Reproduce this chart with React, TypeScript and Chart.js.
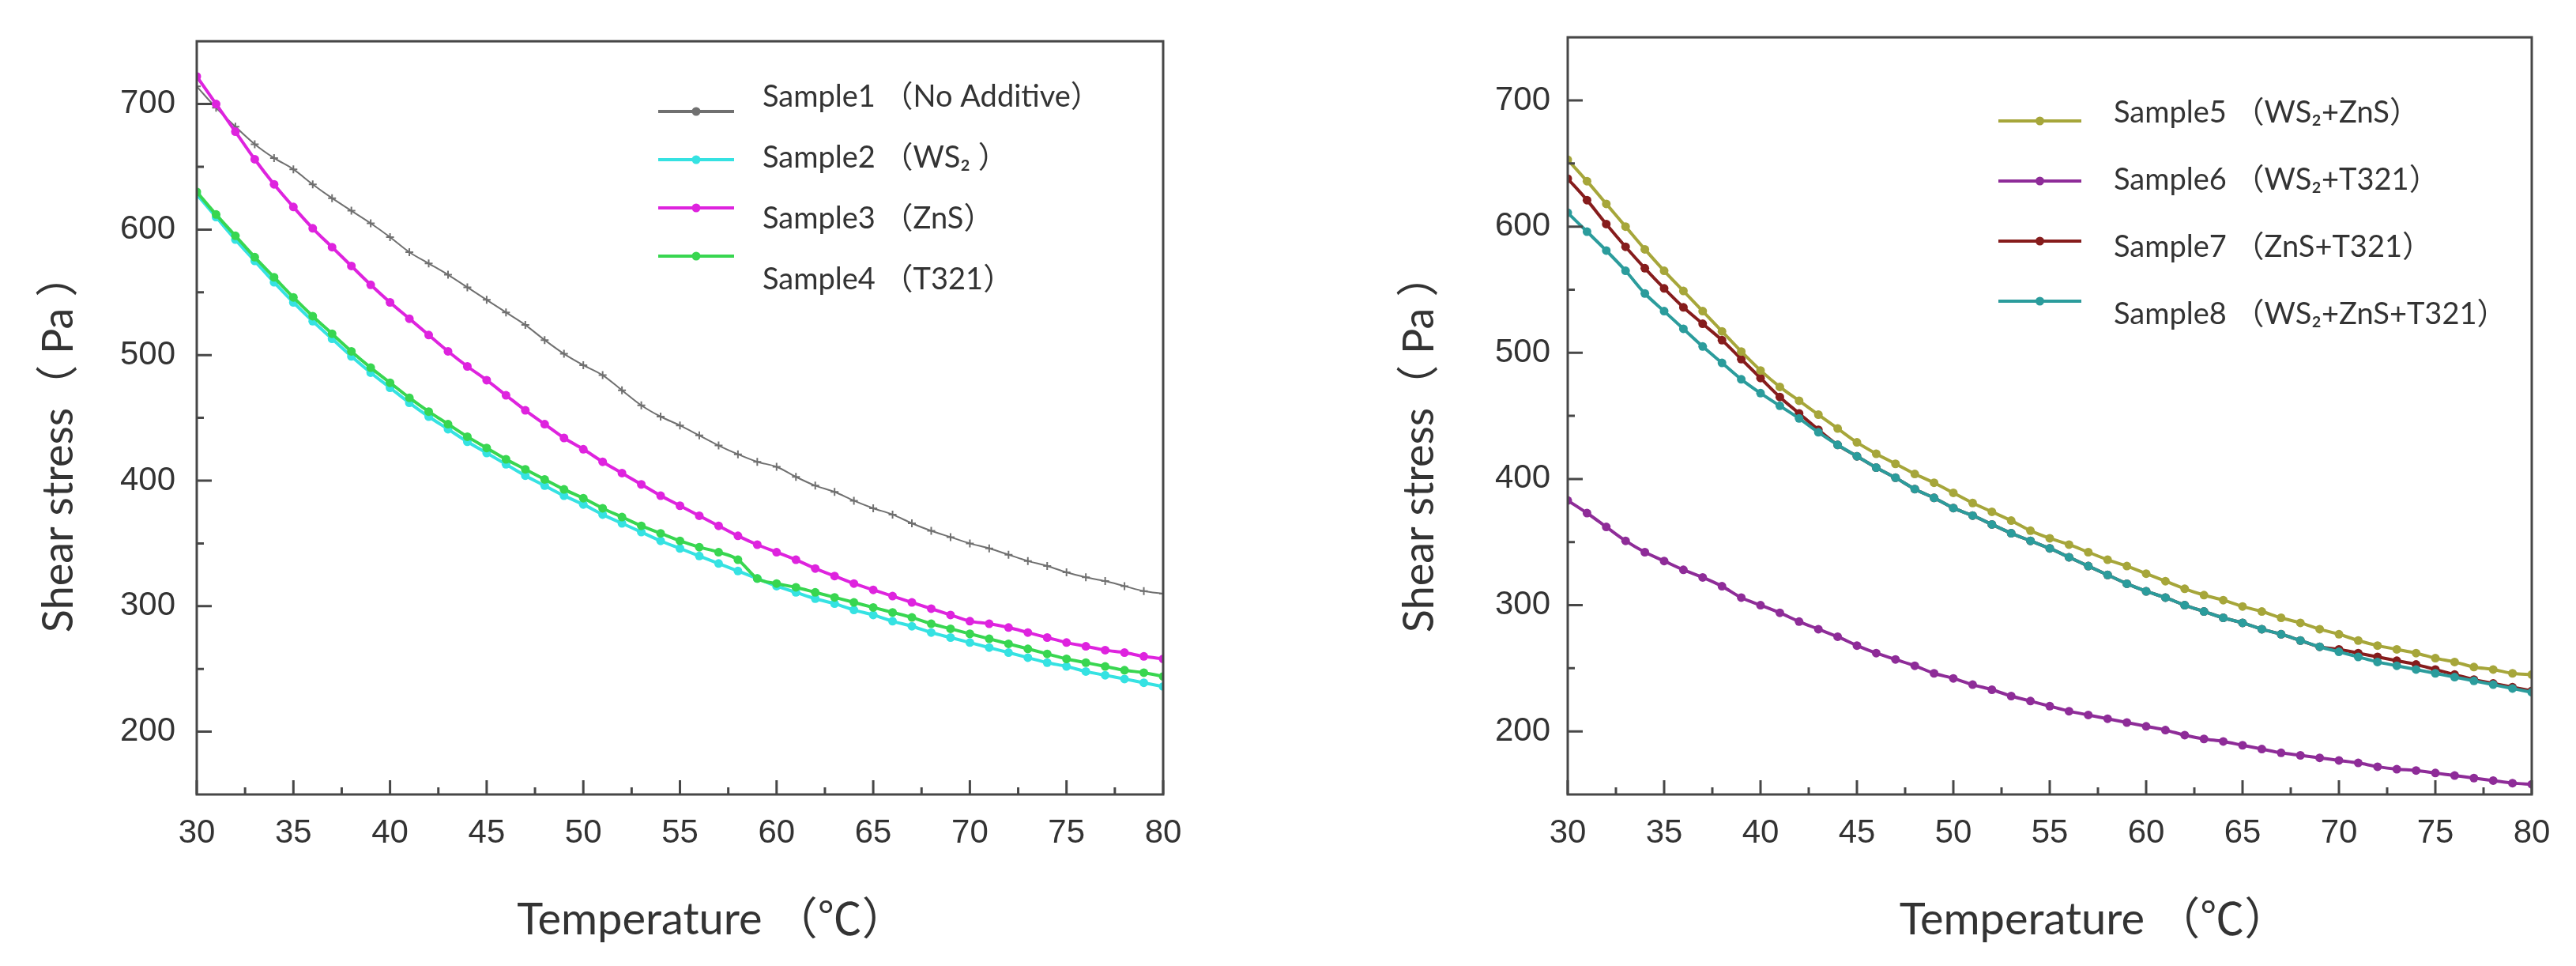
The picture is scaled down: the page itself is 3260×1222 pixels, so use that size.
import React, { useEffect, useRef } from 'react';
import { Chart, registerables, ChartConfiguration, Plugin } from 'chart.js';

Chart.register(...registerables);

// temperature (°C), one reading per degree
const temperatures = [
  30, 31, 32, 33, 34, 35, 36, 37, 38, 39, 40, 41, 42, 43, 44, 45, 46, 47, 48, 49, 50,
  51, 52, 53, 54, 55, 56, 57, 58, 59, 60, 61, 62, 63, 64, 65, 66, 67, 68, 69, 70,
  71, 72, 73, 74, 75, 76, 77, 78, 79, 80,
];

// shear stress (Pa)
const sample1 = [
  714, 697, 682, 668, 657, 648, 636, 625, 615, 605, 594, 582, 573, 564, 554, 544, 534, 524, 512, 501, 492,
  484, 472, 460, 451, 444, 436, 428, 421, 415, 411, 403, 396, 391, 384, 378, 373, 366, 360, 355, 350,
  346, 341, 336, 332, 327, 323, 320, 316, 312, 310,
];
const sample2 = [
  628, 610, 592, 575, 558, 542, 527, 513, 499, 486, 474, 462, 451, 441, 431, 422, 413, 404, 396, 388, 381,
  373, 366, 359, 352, 346, 340, 334, 328, 322, 316, 311, 306, 302, 297, 293, 288, 284, 279, 275, 271,
  267, 263, 259, 255, 252, 248, 245, 242, 239, 236,
];
const sample3 = [
  722, 700, 678, 656, 636, 618, 601, 586, 571, 556, 542, 529, 516, 503, 491, 480, 468, 456, 445, 434, 425,
  415, 406, 397, 388, 380, 372, 364, 356, 349, 343, 337, 330, 324, 318, 313, 308, 303, 298, 293, 288,
  286, 283, 279, 275, 271, 268, 265, 263, 260, 258,
];
const sample4 = [
  630, 612, 595, 578, 562, 546, 531, 517, 503, 490, 478, 466, 455, 445, 435, 426, 417, 409, 401, 393, 386,
  378, 371, 364, 358, 352, 347, 343, 337, 322, 318, 315, 311, 307, 303, 299, 295, 291, 286, 282, 278,
  274, 270, 266, 262, 258, 255, 252, 249, 247, 244,
];
const sample5 = [
  653, 636, 618, 600, 582, 565, 549, 533, 517, 501, 486, 473, 462, 451, 440, 429, 420, 412, 404, 397, 389,
  381, 374, 367, 359, 353, 348, 342, 336, 331, 325, 319, 313, 308, 304, 299, 295, 290, 286, 281, 277,
  272, 268, 265, 262, 258, 255, 251, 249, 246, 245,
];
const sample6 = [
  383, 373, 362, 351, 342, 335, 328, 322, 315, 306, 300, 294, 287, 281, 275, 268, 262, 257, 252, 246, 242,
  237, 233, 228, 224, 220, 216, 213, 210, 207, 204, 201, 197, 194, 192, 189, 186, 183, 181, 179, 177,
  175, 172, 170, 169, 167, 165, 163, 161, 159, 158,
];
const sample7 = [
  638, 621, 602, 584, 567, 551, 536, 523, 510, 495, 480, 465, 452, 439, 427, 418, 409, 401, 392, 385, 377,
  371, 364, 357, 351, 345, 338, 331, 324, 317, 311, 306, 300, 295, 290, 286, 281, 277, 272, 267, 265,
  262, 259, 256, 253, 249, 245, 241, 238, 235, 232,
];
const sample8 = [
  611, 596, 581, 565, 547, 533, 519, 505, 492, 479, 468, 458, 448, 437, 427, 418, 409, 401, 392, 385, 377,
  371, 364, 357, 351, 345, 338, 331, 324, 317, 311, 306, 300, 295, 290, 286, 281, 277, 272, 267, 263,
  259, 255, 252, 249, 246, 243, 240, 237, 234, 231,
];

const xTickValues = [30, 35, 40, 45, 50, 55, 60, 65, 70, 75, 80];
const xMinorValues = [32.5, 37.5, 42.5, 47.5, 52.5, 57.5, 62.5, 67.5, 72.5, 77.5];
const yTickValues = [200, 300, 400, 500, 600, 700];
const yMinorValues = [250, 350, 450, 550, 650];

const leftLabels = ['Sample1 （No Additive）', 'Sample2 （WS₂ ）', 'Sample3 （ZnS）', 'Sample4 （T321）'];
const rightLabels = ['Sample5 （WS₂+ZnS）', 'Sample6 （WS₂+T321）', 'Sample7 （ZnS+T321）', 'Sample8 （WS₂+ZnS+T321）'];
const xTitle = 'Temperature （℃）';
const yTitle = 'Shear stress（ Pa ）';

const TEXT = '#333333';
const AXIS = '#474747';
const SANS = 'Lato, "Noto Sans CJK SC", sans-serif';

const toPoints = (values: number[]) => temperatures.map((t, i) => ({ x: t, y: values[i] }));

const series = (label: string, values: number[], color: string, opts: Record<string, unknown> = {}) => ({
  label,
  data: toPoints(values),
  borderColor: color,
  backgroundColor: color,
  pointBackgroundColor: color,
  pointBorderColor: color,
  borderWidth: 4,
  pointRadius: 5.5,
  pointBorderWidth: 0,
  cubicInterpolationMode: 'monotone' as const,
  ...opts,
});

// box, inward ticks, axis titles and the in-plot legend
const framePlugin: Plugin<'line'> = {
  id: 'frame',
  afterDraw(chart, _args, opts: any) {
    const { ctx, chartArea: a } = chart;
    const x = chart.scales.x;
    const y = chart.scales.y;
    ctx.save();
    ctx.strokeStyle = AXIS;
    ctx.lineWidth = 3;
    ctx.beginPath();
    xTickValues.forEach((v) => {
      const px = x.getPixelForValue(v);
      ctx.moveTo(px, a.bottom);
      ctx.lineTo(px, a.bottom - 18);
    });
    xMinorValues.forEach((v) => {
      const px = x.getPixelForValue(v);
      ctx.moveTo(px, a.bottom);
      ctx.lineTo(px, a.bottom - 9);
    });
    yTickValues.forEach((v) => {
      const py = y.getPixelForValue(v);
      ctx.moveTo(a.left, py);
      ctx.lineTo(a.left + 19, py);
    });
    yMinorValues.forEach((v) => {
      const py = y.getPixelForValue(v);
      ctx.moveTo(a.left, py);
      ctx.lineTo(a.left + 9, py);
    });
    ctx.stroke();
    ctx.strokeRect(a.left, a.top, a.right - a.left, a.bottom - a.top);

    // axis titles
    ctx.fillStyle = TEXT;
    ctx.textAlign = 'center';
    ctx.textBaseline = 'middle';
    ctx.font = `56px ${SANS}`;
    ctx.fillText(xTitle, (a.left + a.right) / 2 + opts.xTitleDx, opts.xTitleY);
    ctx.save();
    ctx.translate(opts.yTitleX, opts.yTitleY);
    ctx.rotate(-Math.PI / 2);
    ctx.font = `54px ${SANS}`;
    ctx.fillText(yTitle, 0, 0);
    ctx.restore();

    // legend
    ctx.font = `38px ${SANS}`;
    ctx.textAlign = 'left';
    chart.data.datasets.forEach((ds: any, i: number) => {
      const ly = opts.lineY + i * opts.lineStep;
      ctx.strokeStyle = ds.borderColor;
      ctx.lineWidth = 4;
      ctx.beginPath();
      ctx.moveTo(opts.lineX0, ly);
      ctx.lineTo(opts.lineX1, ly);
      ctx.stroke();
      ctx.fillStyle = ds.borderColor;
      ctx.beginPath();
      ctx.arc((opts.lineX0 + opts.lineX1) / 2, ly, 5.5, 0, Math.PI * 2);
      ctx.fill();
      ctx.fillStyle = TEXT;
      ctx.fillText(ds.label, opts.textX, opts.textY + i * opts.textStep);
    });
    ctx.restore();
  },
};

const makeConfig = (
  datasets: any[],
  padding: { left: number; right: number },
  yWidth: number,
  yTickPad: number,
  frame: Record<string, number>,
): ChartConfiguration<'line'> => ({
  type: 'line',
  data: { datasets },
  options: {
    responsive: false,
    animation: false,
    layout: { padding: { left: padding.left, right: padding.right, top: 23, bottom: 0 } },
    plugins: {
      legend: { display: false },
      tooltip: { enabled: false },
      frame,
    } as any,
    scales: {
      x: {
        type: 'linear',
        min: 30,
        max: 80,
        grid: { display: false, drawTicks: false },
        border: { display: false },
        afterBuildTicks: (s) => {
          s.ticks = xTickValues.map((value) => ({ value }));
        },
        afterFit: (s) => {
          s.height = 217;
        },
        ticks: {
          color: TEXT,
          padding: 24,
          maxRotation: 0,
          autoSkip: false,
          font: { family: '"Liberation Sans", Arial, sans-serif', size: 42 },
        },
      },
      y: {
        type: 'linear',
        min: 150,
        max: 750,
        grid: { display: false, drawTicks: false },
        border: { display: false },
        afterBuildTicks: (s) => {
          s.ticks = yTickValues.map((value) => ({ value }));
        },
        afterFit: (s) => {
          s.width = yWidth;
        },
        ticks: {
          color: TEXT,
          padding: yTickPad,
          font: { family: '"Liberation Sans", Arial, sans-serif', size: 42 },
        },
      },
    },
  },
  plugins: [framePlugin],
});

const leftDatasets = () => [
  series(leftLabels[0], sample1, '#707070', {
    borderWidth: 2,
    pointStyle: 'cross',
    pointRadius: 5,
    pointBorderWidth: 2,
    order: 2,
  }),
  series(leftLabels[1], sample2, '#35e2e2', { order: 4 }),
  series(leftLabels[2], sample3, '#de23de', { order: 1 }),
  series(leftLabels[3], sample4, '#38d650', { order: 3 }),
];

const rightDatasets = () => [
  series(rightLabels[0], sample5, '#a6a63a', { order: 1 }),
  series(rightLabels[1], sample6, '#8e2c98', { order: 0 }),
  series(rightLabels[2], sample7, '#861c1c', { order: 3 }),
  series(rightLabels[3], sample8, '#2b9c9c', { order: 2 }),
];

const Panel: React.FC<{ config: () => ChartConfiguration<'line'>; left: number }> = ({ config, left }) => {
  const canvasRef = useRef<HTMLCanvasElement | null>(null);

  useEffect(() => {
    if (!canvasRef.current) return;
    const chart = new Chart(canvasRef.current, config());
    return () => chart.destroy();
  }, [config]);

  return (
    <div style={{ position: 'absolute', left, top: 0, width: 1630, height: 1222 }}>
      <canvas ref={canvasRef} width={1630} height={1222} style={{ width: 1630, height: 1222 }} />
    </div>
  );
};

const leftConfig = () =>
  makeConfig(leftDatasets(), { left: 0, right: 158 }, 249, 27, {
    lineX0: 833, lineX1: 929, lineY: 141, lineStep: 61, textX: 965, textY: 123, textStep: 77,
    xTitleDx: 40, xTitleY: 1164, yTitleX: 75, yTitleY: 561,
  });

const rightConfig = () =>
  makeConfig(rightDatasets(), { left: 100, right: 56 }, 254, 22, {
    lineX0: 899, lineX1: 1004, lineY: 153, lineStep: 76, textX: 1045, textY: 143, textStep: 85,
    xTitleDx: 56, xTitleY: 1164, yTitleX: 167, yTitleY: 561,
  });

const App: React.FC = () => (
  <div style={{ position: 'absolute', left: 0, top: 0, width: 3260, height: 1222, background: '#fff' }}>
    <Panel config={leftConfig} left={0} />
    <Panel config={rightConfig} left={1630} />
  </div>
);

export default App;
